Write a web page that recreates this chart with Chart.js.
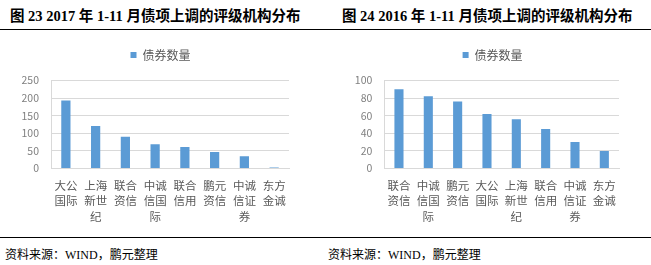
<!DOCTYPE html>
<html>
<head>
<meta charset="utf-8">
<script src="https://cdn.jsdelivr.net/npm/chart.js@4"></script>
<style>
  body { margin: 0; background: #fff; }
  #page { position: relative; width: 651px; height: 265px; overflow: hidden; background: #fff; }
  .title { position: absolute; top: 4px; font: bold 14.5px "Liberation Serif", "Noto Sans CJK SC", serif; color: #000; white-space: nowrap; }
  .num { color: #000; }
  .rule { position: absolute; left: 0; width: 651px; height: 1px; background: #000; }
  .src { position: absolute; top: 245px; font: 12px "Liberation Serif", "Noto Sans CJK SC", serif; color: #000; white-space: nowrap; }
  .box { position: absolute; top: 35px; height: 195px; }
</style>
</head>
<body>
<div id="page">
  <div class="title" style="left:10px">图 23 2017 年 1-11 月债项上调的评级机构分布</div>
  <div class="title" style="left:342px">图 24 2016 年 1-11 月债项上调的评级机构分布</div>
  <div class="rule" style="top:29px"></div>

  <div class="box" style="left:0;width:325px"><canvas id="chart-2017" width="325" height="195"></canvas></div>
  <div class="box" style="left:325px;width:326px"><canvas id="chart-2016" width="326" height="195"></canvas></div>

  <div class="rule" style="top:237px"></div>
  <div class="src" style="left:5px">资料来源：WIND，鹏元整理</div>
  <div class="src" style="left:328px">资料来源：WIND，鹏元整理</div>
</div>

<script>
// ─── data ────────────────────────────────────────────────────────────────────
const seriesName = '债券数量';

const agencies2017 = ['大公国际', '上海新世纪', '联合资信', '中诚信国际', '联合信用', '鹏元资信', '中诚信证券', '东方金诚'];
const counts2017   = [193, 121, 90, 69, 61, 47, 35, 3];
const ticks2017    = [0, 50, 100, 150, 200, 250];

const agencies2016 = ['联合资信', '中诚信国际', '鹏元资信', '大公国际', '上海新世纪', '联合信用', '中诚信证券', '东方金诚'];
const counts2016   = [90, 82, 76, 62, 56, 45, 30, 20];
const ticks2016    = [0, 20, 40, 60, 80, 100];

// ─── style ───────────────────────────────────────────────────────────────────
const C = {
  bar:   '#5b9bd5',
  grid:  '#d9d9d9',
  tick:  '#808080',
  label: '#595959',
};
const FONT = '"Noto Sans CJK SC", "Noto Sans", sans-serif';

// agency names wrap every two characters, as in the source chart
const wrap2 = name => name.match(/.{1,2}/g);

// extra room under the legend, and legend centred where the source put it
const legendRoom = {
  id: 'legendRoom',
  beforeInit(chart) {
    const fit = chart.legend.fit;
    const gap = chart.options.plugins.legendRoom.gap;
    chart.legend.fit = function () {
      fit.call(this);
      this.height += gap;
    };
  },
  afterLayout(chart, _args, opts) {
    chart.legend.left = 0;
    chart.legend.right = opts.center * 2;
  },
};

function makeBarChart(id, names, values, ticks, geo) {
  const step = ticks[1] - ticks[0];
  const canvas = document.getElementById(id);
  return new Chart(canvas.getContext('2d'), {
    type: 'bar',
    data: {
      labels: names.map(wrap2),
      datasets: [{
        label: seriesName,
        data: values,
        backgroundColor: C.bar,
        borderWidth: 0,
        categoryPercentage: 1,
        barPercentage: 0.31,
      }],
    },
    plugins: [legendRoom],
    options: {
      responsive: false, animation: false,
      layout: { padding: { top: 4, right: geo.right, left: 0, bottom: 0 } },
      plugins: {
        legendRoom: { gap: 9.5, center: geo.legendCenter },
        tooltip: { enabled: false },
        legend: {
          display: true,
          position: 'top',
          labels: {
            color: C.label, boxWidth: 6, boxHeight: 6, padding: 10,
            font: { family: FONT, size: 12 },
          },
        },
      },
      scales: {
        x: {
          grid: { display: false, drawTicks: false },
          border: { display: true, color: C.grid, width: 1 },
          ticks: {
            color: C.label, padding: 9.5, autoSkip: false, maxRotation: 0,
            font: { family: FONT, size: 11.5, lineHeight: 1.33 },
          },
          afterFit: s => { s.height = 61.5; },
        },
        y: {
          min: ticks[0], max: ticks[ticks.length - 1],
          grid: { color: C.grid, lineWidth: 1, drawTicks: false },
          border: { display: true, color: C.grid, width: 1 },
          ticks: {
            stepSize: step, color: C.tick, padding: 12,
            font: { family: FONT, size: 10.5 },
          },
          afterFit: s => { s.width = geo.left; },
        },
      },
    },
  });
}

makeBarChart('chart-2017', agencies2017, counts2017, ticks2017, { left: 51, right: 36, legendCenter: 160.5 });
makeBarChart('chart-2016', agencies2016, counts2016, ticks2016, { left: 59.3, right: 32, legendCenter: 167.6 });
</script>
</body>
</html>
